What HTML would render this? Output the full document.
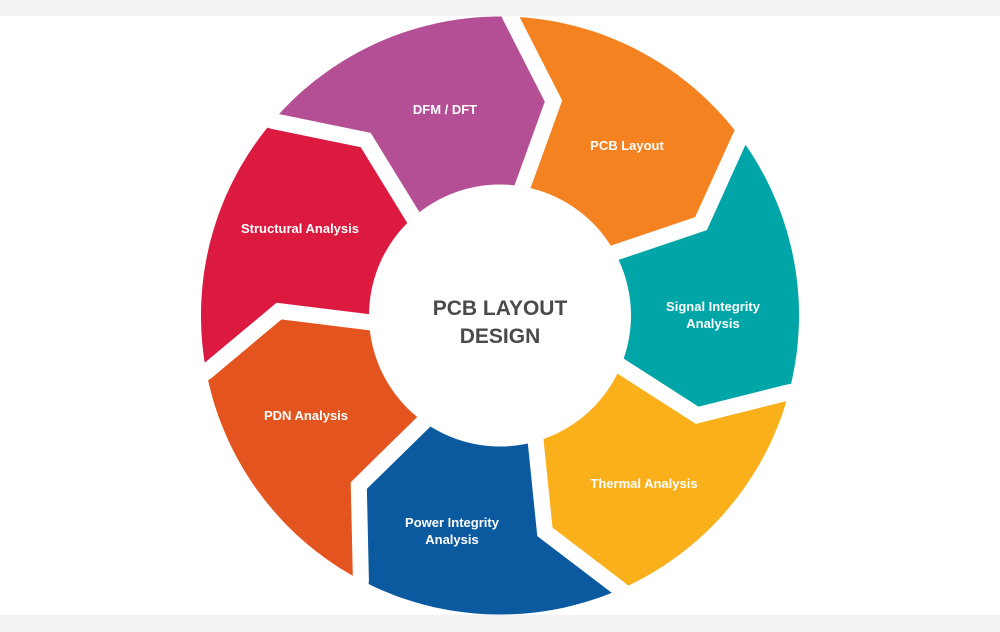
<!DOCTYPE html>
<html><head><meta charset="utf-8"><style>
html,body{margin:0;padding:0;background:#f2f2f2;}
#wrap{position:relative;width:1000px;height:632px;background:#f2f2f2;overflow:hidden;}
svg{position:absolute;left:0;top:0;}
</style></head><body>
<div id="wrap">
<svg id="s" width="1000" height="632" viewBox="0 0 1000 632" xmlns="http://www.w3.org/2000/svg">
<rect x="0" y="16" width="1000" height="599" fill="#ffffff"/>
<g id="segs"></g>
<circle cx="500" cy="315.5" r="131" fill="#ffffff"/>
<rect x="0" y="0" width="1000" height="16" fill="#f2f2f2"/>
<rect x="0" y="615" width="1000" height="17" fill="#f2f2f2"/>
<g font-family="'Liberation Sans', sans-serif" font-weight="bold" fill="#ffffff" font-size="13" text-anchor="middle">
<text x="445" y="114">DFM / DFT</text>
<text x="627" y="150">PCB Layout</text>
<text x="300" y="233">Structural Analysis</text>
<text x="713" y="311">Signal Integrity</text>
<text x="713" y="328">Analysis</text>
<text x="306" y="420">PDN Analysis</text>
<text x="644" y="488">Thermal Analysis</text>
<text x="452" y="527">Power Integrity</text>
<text x="452" y="544">Analysis</text>
</g>
<g font-family="'Liberation Sans', sans-serif" font-weight="bold" fill="#4a4a4a" font-size="21" text-anchor="middle">
<text x="500" y="315">PCB LAYOUT</text>
<text x="500" y="343">DESIGN</text>
</g>
</svg>
</div>
<script>
(function(){
var cx=500,cy=315.5,R=299,Ri=110,Rt=221;
var cols=["#f58220","#00a5a8","#f9b01b","#0b5aa0","#e4541e","#dc1a3f","#b44f96"];
function P(r,a){a=a*Math.PI/180;return [cx+r*Math.sin(a),cy-r*Math.cos(a)];}
function s(p){return p[0].toFixed(1)+","+p[1].toFixed(1);}
var g=document.getElementById("segs"),html="";
var step=360/7;
for(var k=0;k<7;k++){
 var b0=2+k*step,b1=b0+step,pts=[];
 pts.push(P(R,b0),P(Rt,b0+12),P(Ri,b0+6));
 for(var a=b0+6;a<=b1+6;a+=2)pts.push(P(Ri,a));
 pts.push(P(Ri,b1+6),P(Rt,b1+12),P(R,b1));
 for(var a=b1;a>=b0;a-=1)pts.push(P(R,a));
 pts.push(P(R,b0));
 html+='<polygon fill="'+cols[k]+'" points="'+pts.map(s).join(" ")+'"/>';
}
for(var k=0;k<7;k++){
 var b=2+k*step;
 html+='<polyline fill="none" stroke="#ffffff" stroke-width="16" stroke-linejoin="miter" points="'+s(P(R+20,b-1.5))+' '+s(P(R,b))+' '+s(P(Rt,b+12))+' '+s(P(Ri,b+6))+'"/>';
}
g.innerHTML=html;
})();
</script>
</body></html>
